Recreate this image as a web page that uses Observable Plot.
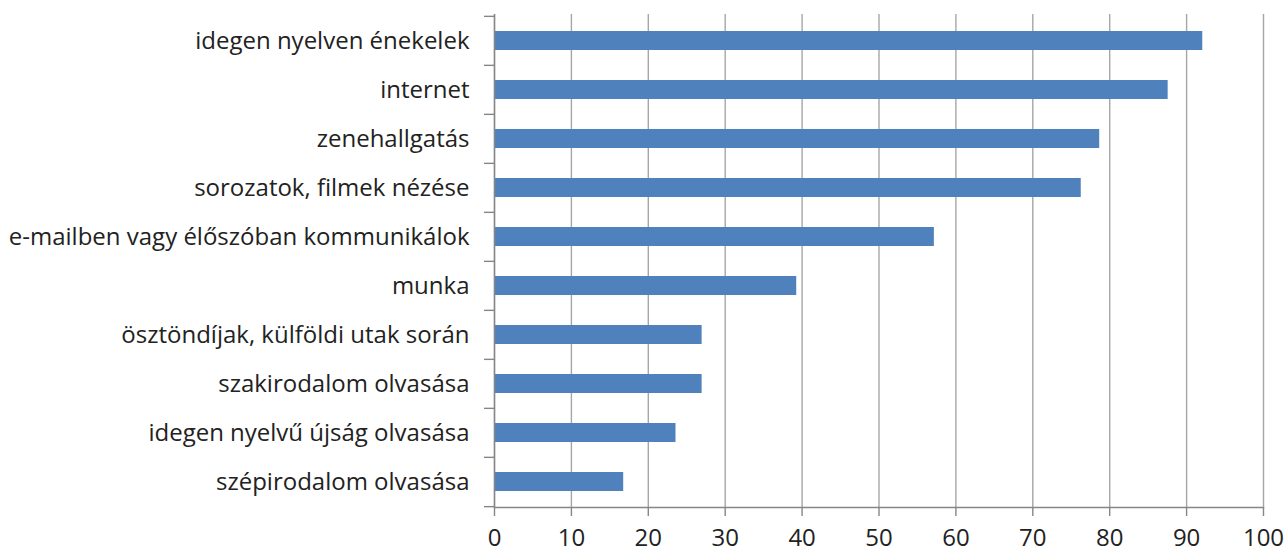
<!DOCTYPE html>
<html>
<head>
<meta charset="utf-8">
<script src="https://cdn.jsdelivr.net/npm/d3@7"></script>
<script src="https://cdn.jsdelivr.net/npm/@observablehq/plot@0.6"></script>
<style>
  html, body { margin: 0; padding: 0; background: #fff; }
  #chart svg { display: block; }
</style>
</head>
<body>
<div id="chart"></div>
<script>
const categories = [
  "idegen nyelven énekelek",
  "internet",
  "zenehallgatás",
  "sorozatok, filmek nézése",
  "e-mailben vagy élőszóban kommunikálok",
  "munka",
  "ösztöndíjak, külföldi utak során",
  "szakirodalom olvasása",
  "idegen nyelvű újság olvasása",
  "szépirodalom olvasása"
];
const values = [92.1, 87.6, 78.7, 76.3, 57.2, 39.3, 27.0, 27.0, 23.6, 16.8];
const xTicks = [0, 10, 20, 30, 40, 50, 60, 70, 80, 90, 100];

const data = categories.map((c, i) => ({category: c, value: values[i]}));

const W = 1287, H = 553;
const mTop = 14, mBottom = 46, mLeft = 494, mRight = 24;
const step = (H - mTop - mBottom) / categories.length;
const font = "'Open Sans', Lato, sans-serif";
const textColor = "#222222";
const axisColor = "#868686";
const fs = 24;

const chart = Plot.plot({
  width: W,
  height: H,
  marginTop: mTop,
  marginBottom: mBottom,
  marginLeft: mLeft,
  marginRight: mRight,
  style: {fontFamily: font, fontSize: fs + "px", color: textColor, background: "#fff"},
  x: {domain: [0, 100], ticks: xTicks},
  y: {domain: categories, padding: 0},
  marks: [
    Plot.gridX(xTicks, {stroke: "#a6a6a6", strokeOpacity: 1, strokeWidth: 1.4}),
    Plot.barX(data, {y: "category", x: "value", fill: "#4f81bd", insetTop: 15, insetBottom: 15}),
    Plot.ruleX([0], {stroke: axisColor, strokeWidth: 1.4}),
    Plot.frame({anchor: "bottom", stroke: axisColor, strokeWidth: 1.4}),
    // category boundary ticks
    Plot.axisY({tickSize: 10, dy: -step / 2, tickFormat: () => "", label: null, stroke: axisColor, strokeWidth: 1.4}),
    Plot.axisY({ticks: [categories[categories.length - 1]], tickSize: 10, dy: step / 2, tickFormat: () => "", label: null, stroke: axisColor, strokeWidth: 1.4}),
    // category labels
    Plot.axisY({tickSize: 0, tickPadding: 25, fontSize: fs, fill: textColor, label: null}),
    // x axis
    Plot.axisX(xTicks, {tickSize: 9, tickPadding: 12, fontSize: fs, fill: textColor, stroke: axisColor, strokeWidth: 1.4, label: null})
  ]
});
document.getElementById("chart").appendChild(chart);
</script>
</body>
</html>
